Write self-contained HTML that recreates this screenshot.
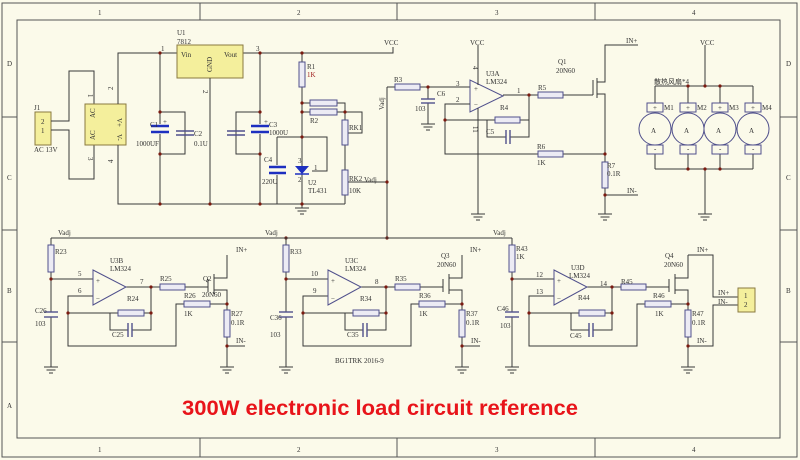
<!DOCTYPE html>
<html><head><meta charset="utf-8"><style>
html,body{margin:0;padding:0;background:#fff}
svg{display:block}
text{font-family:"Liberation Serif","Noto Sans CJK SC",serif;font-size:7px;fill:#333}
.w{stroke:#3a3a3a;stroke-width:1;fill:none}
.r{fill:#ecebf4;stroke:#50508c;stroke-width:1}
.cp{stroke:#50508c;stroke-width:1.4}
.ce{stroke:#1d2fc0;stroke-width:2.6}
.n{fill:#7a1a10}
.g{stroke:#3a3a3a;stroke-width:1}
.red{fill:#a02020}
</style></head><body>
<svg width="800" height="460" viewBox="0 0 800 460" xmlns="http://www.w3.org/2000/svg">
<defs>
<g id="gnd"><line class="g" x1="0" y1="0" x2="0" y2="4"/><line class="g" x1="-7" y1="4" x2="7" y2="4"/><line class="g" x1="-4.5" y1="7" x2="4.5" y2="7"/><line class="g" x1="-2" y1="10" x2="2" y2="10"/></g>
</defs>
<rect x="0" y="0" width="800" height="460" fill="#fbfaea"/>
<!-- frame -->
<g stroke="#555" stroke-width="1" fill="none">
<rect x="2" y="3" width="795" height="454"/>
<rect x="17" y="20" width="763" height="418"/>
<line x1="200" y1="3" x2="200" y2="20"/><line x1="397" y1="3" x2="397" y2="20"/><line x1="595" y1="3" x2="595" y2="20"/>
<line x1="200" y1="438" x2="200" y2="457"/><line x1="397" y1="438" x2="397" y2="457"/><line x1="595" y1="438" x2="595" y2="457"/>
<line x1="2" y1="117" x2="17" y2="117"/><line x1="2" y1="230" x2="17" y2="230"/><line x1="2" y1="342" x2="17" y2="342"/>
<line x1="780" y1="117" x2="797" y2="117"/><line x1="780" y1="230" x2="797" y2="230"/><line x1="780" y1="342" x2="797" y2="342"/>
</g>
<g font-size="8">
<text x="98" y="15">1</text><text x="297" y="15">2</text><text x="495" y="15">3</text><text x="692" y="15">4</text>
<text x="98" y="452">1</text><text x="297" y="452">2</text><text x="495" y="452">3</text><text x="692" y="452">4</text>
<text x="7" y="66">D</text><text x="7" y="180">C</text><text x="7" y="293">B</text><text x="7" y="408">A</text>
<text x="786" y="66">D</text><text x="786" y="180">C</text><text x="786" y="293">B</text>
</g>

<!-- ===== Power section ===== -->
<rect x="35" y="112" width="16" height="33" fill="#f4ef9c" stroke="#8a7a40"/>
<text x="41" y="124">2</text><text x="41" y="133">1</text>
<text x="34" y="110">J1</text><text x="34" y="152">AC 13V</text>
<path class="w" d="M51 121H69V71H94V105M51 130H69V179H94V145"/>
<rect x="85" y="104" width="41" height="41" fill="#f4ef9c" stroke="#8a7a40"/>
<text x="95" y="118" transform="rotate(-90 95 118)" font-size="8">AC</text>
<text x="95" y="140" transform="rotate(-90 95 140)" font-size="8">AC</text>
<text x="117" y="118" transform="rotate(90 117 118)" font-size="8">V+</text>
<text x="117" y="134" transform="rotate(90 117 134)" font-size="8">V-</text>
<text x="88" y="94" transform="rotate(90 88 94)">1</text>
<text x="113" y="90" transform="rotate(-90 113 90)">2</text>
<text x="88" y="157" transform="rotate(90 88 157)">3</text>
<text x="113" y="163" transform="rotate(-90 113 163)">4</text>
<path class="w" d="M118 104V53H177M243 53H393V47M118 145V204H345"/>
<rect x="177" y="45" width="66" height="33" fill="#f4ef9c" stroke="#8a7a40"/>
<text x="177" y="35">U1</text><text x="177" y="44">7812</text>
<text x="181" y="57">Vin</text><text x="224" y="57">Vout</text>
<text x="212" y="72" transform="rotate(-90 212 72)" font-size="8">GND</text>
<text x="161" y="51">1</text><text x="256" y="51">3</text>
<text x="203" y="90" transform="rotate(90 203 90)">2</text>
<text x="384" y="45">VCC</text>
<path class="w" d="M210 78V204M160 53V124M160 134V204M160 112H185V154H160M185 112V128M185 138V154"/>
<line class="ce" x1="151" y1="126" x2="169" y2="126"/><line class="ce" x1="151" y1="132" x2="169" y2="132"/>
<line class="cp" x1="176" y1="131" x2="194" y2="131"/><line class="cp" x1="176" y1="135" x2="194" y2="135"/>
<text x="150" y="127">C1</text><text x="163" y="124" font-size="6">+</text><text x="136" y="146">1000UF</text>
<text x="194" y="136">C2</text><text x="194" y="146">0.1U</text>
<path class="w" d="M260 53V124M260 134V204M260 112H236V154H260M236 112V128M236 138V154"/>
<line class="ce" x1="251" y1="126" x2="269" y2="126"/><line class="ce" x1="251" y1="132" x2="269" y2="132"/>
<line class="cp" x1="227" y1="131" x2="245" y2="131"/><line class="cp" x1="227" y1="135" x2="245" y2="135"/>
<text x="269" y="127">C3</text><text x="269" y="135">1000U</text><text x="264" y="124" font-size="6">+</text>
<path class="w" d="M277 137V165M277 175V204M277 137H327V171H312"/>
<line class="ce" x1="269" y1="167" x2="286" y2="167"/><line class="ce" x1="269" y1="173" x2="286" y2="173"/>
<text x="264" y="162">C4</text><text x="262" y="184">220U</text>
<path class="w" d="M302 53V62M302 87V204"/>
<rect x="299" y="62" width="6" height="25" class="r"/>
<text x="307" y="69">R1</text><text x="307" y="77" class="red">1K</text>
<polygon points="295,166 309,166 302,174" fill="#1d2fc0"/><line x1="295" y1="174" x2="309" y2="174" stroke="#1d2fc0" stroke-width="1.5"/>
<text x="298" y="163">3</text><text x="298" y="182">2</text><text x="314" y="170">1</text>
<text x="308" y="185">U2</text><text x="308" y="193">TL431</text>
<path class="w" d="M302 103H310M302 112H310M337 103H345V120M337 112H362V133H348M345 145V170M345 195V204M345 182H387"/>
<rect x="310" y="100" width="27" height="6" class="r"/><rect x="310" y="109" width="27" height="6" class="r"/>
<rect x="342" y="120" width="6" height="25" class="r"/><rect x="342" y="170" width="6" height="25" class="r"/>
<text x="310" y="123">R2</text><text x="349" y="130">RK1</text>
<text x="349" y="181">RK2</text><text x="364" y="182">Vadj</text><text x="349" y="193">10K</text>
<use href="#gnd" x="302" y="204"/>
<text x="384" y="110" transform="rotate(-90 384 110)">Vadj</text>
<path class="w" d="M387 87V238M387 87H395M420 87H470M428 87V99M428 103V120"/>
<rect x="395" y="84" width="25" height="6" class="r"/><text x="394" y="82">R3</text>
<line class="cp" x1="421" y1="99" x2="435" y2="99"/><line class="cp" x1="421" y1="103" x2="435" y2="103"/>
<text x="437" y="96">C6</text><text x="415" y="111">103</text>
<use href="#gnd" x="428" y="120"/>
<!-- U3A -->
<polygon points="470,80 470,112 503,96" fill="none" stroke="#50508c"/>
<text x="474" y="91" font-size="8">+</text><text x="474" y="107" font-size="8">−</text>
<text x="486" y="76">U3A</text><text x="486" y="84">LM324</text>
<text x="456" y="86">3</text><text x="456" y="102">2</text><text x="517" y="93">1</text>
<text x="470" y="45">VCC</text><text x="473" y="66" transform="rotate(90 473 66)">4</text>
<text x="473" y="126" transform="rotate(90 473 126)">11</text>
<path class="w" d="M478 45V85M478 108V210M470 104H445V154H538M445 120H495M520 120H529V95M503 95H538M563 95H593M487 120V137H506M510 137H529V120M563 154H605"/>
<line class="cp" x1="506" y1="130" x2="506" y2="144"/><line class="cp" x1="510" y1="130" x2="510" y2="144"/>
<rect x="495" y="117" width="25" height="6" class="r"/><text x="500" y="110">R4</text><text x="486" y="134">C5</text>
<rect x="538" y="92" width="25" height="6" class="r"/><text x="538" y="90">R5</text>
<rect x="538" y="151" width="25" height="6" class="r"/><text x="537" y="149">R6</text><text x="537" y="165">1K</text>
<use href="#gnd" x="478" y="210"/>
<path class="w" d="M593 95V80M597 78V98M597 82H605V45H638M597 94H605V162M605 188V210M605 195H638"/>
<rect x="602" y="162" width="6" height="26" class="r"/>
<text x="607" y="168">R7</text><text x="607" y="176">0.1R</text>
<text x="558" y="64">Q1</text><text x="556" y="73">20N60</text>
<text x="626" y="43">IN+</text><text x="627" y="193">IN-</text>
<use href="#gnd" x="605" y="210"/>
<!-- motors -->
<text x="700" y="45">VCC</text>
<path class="w" d="M705 45V86M655 86H753M655 86V103M688 86V103M720 86V103M753 86V103M655 153V169M688 153V169M720 153V169M753 153V169M655 169H753M705 169V210"/>
<use href="#gnd" x="705" y="210"/>
<text x="654" y="84" font-size="5">散热风扇*4</text>
<g fill="#fbfaea" stroke="#50508c">
<rect x="647" y="103" width="16" height="9"/><rect x="680" y="103" width="16" height="9"/><rect x="712" y="103" width="16" height="9"/><rect x="745" y="103" width="16" height="9"/>
<rect x="647" y="145" width="16" height="9"/><rect x="680" y="145" width="16" height="9"/><rect x="712" y="145" width="16" height="9"/><rect x="745" y="145" width="16" height="9"/>
<circle cx="655" cy="129" r="16"/><circle cx="688" cy="129" r="16"/><circle cx="720" cy="129" r="16"/><circle cx="753" cy="129" r="16"/>
</g>
<g font-size="8"><text x="651" y="133">A</text><text x="684" y="133">A</text><text x="716" y="133">A</text><text x="749" y="133">A</text></g>
<text x="653" y="110">+</text><text x="686" y="110">+</text><text x="718" y="110">+</text><text x="751" y="110">+</text>
<text x="654" y="151">-</text><text x="687" y="151">-</text><text x="719" y="151">-</text><text x="752" y="151">-</text>
<text x="664" y="110">M1</text><text x="697" y="110">M2</text><text x="729" y="110">M3</text><text x="762" y="110">M4</text>
<g fill="#7a1a10"><circle cx="688" cy="86" r="1.6"/><circle cx="705" cy="86" r="1.6"/><circle cx="720" cy="86" r="1.6"/><circle cx="688" cy="169" r="1.6"/><circle cx="705" cy="169" r="1.6"/><circle cx="720" cy="169" r="1.6"/>
<circle cx="160" cy="53" r="1.6"/><circle cx="260" cy="53" r="1.6"/><circle cx="302" cy="53" r="1.6"/><circle cx="302" cy="103" r="1.6"/><circle cx="302" cy="112" r="1.6"/><circle cx="302" cy="137" r="1.6"/><circle cx="345" cy="112" r="1.6"/><circle cx="387" cy="182" r="1.6"/><circle cx="302" cy="204" r="1.6"/><circle cx="210" cy="204" r="1.6"/><circle cx="160" cy="204" r="1.6"/><circle cx="260" cy="204" r="1.6"/><circle cx="160" cy="112" r="1.6"/><circle cx="160" cy="154" r="1.6"/><circle cx="260" cy="112" r="1.6"/><circle cx="260" cy="154" r="1.6"/>
<circle cx="428" cy="87" r="1.6"/><circle cx="445" cy="120" r="1.6"/><circle cx="529" cy="95" r="1.6"/><circle cx="605" cy="154" r="1.6"/><circle cx="605" cy="195" r="1.6"/>
<circle cx="286" cy="238" r="1.6"/><circle cx="387" cy="238" r="1.6"/></g>

<!-- Vadj bus -->
<path class="w" d="M51 238H512"/>
<text x="58" y="235">Vadj</text><text x="265" y="235">Vadj</text><text x="493" y="235">Vadj</text>

<!-- op-amp section template B -->
<g id="secB">
<path class="w" d="M51 238V245M51 272V312M51 317V363M51 279H93M93 296H68V346H176V304H184M210 304H227M68 313H118M144 313H151M110 313V330H128M132 330H151V313M126 287H160M151 287V313M185 287H208M227 255V278H214M214 290H227V310M227 337V363M227 346H245"/>
<rect x="48" y="245" width="6" height="27" class="r"/>
<line class="cp" x1="44" y1="312" x2="58" y2="312"/><line class="cp" x1="44" y1="317" x2="58" y2="317"/>
<polygon points="93,270 93,305 126,287" fill="none" stroke="#50508c"/>
<text x="96" y="283" font-size="8">+</text><text x="96" y="301" font-size="8">−</text>
<rect x="118" y="310" width="26" height="6" class="r"/>
<line class="cp" x1="128" y1="323" x2="128" y2="337"/><line class="cp" x1="132" y1="323" x2="132" y2="337"/>
<rect x="160" y="284" width="25" height="6" class="r"/>
<rect x="184" y="301" width="26" height="6" class="r"/>
<line class="w" x1="208" y1="279" x2="208" y2="292"/><line class="w" x1="214" y1="274" x2="214" y2="294"/>
<rect x="224" y="310" width="6" height="27" class="r"/>
<use href="#gnd" x="51" y="363"/><use href="#gnd" x="227" y="363"/>
<g fill="#7a1a10"><circle cx="51" cy="279" r="1.6"/><circle cx="68" cy="313" r="1.6"/><circle cx="151" cy="287" r="1.6"/><circle cx="151" cy="313" r="1.6"/><circle cx="227" cy="304" r="1.6"/><circle cx="227" cy="346" r="1.6"/></g>
</g>
<g transform="translate(235,0)">
<path class="w" d="M51 238V245M51 272V312M51 317V363M51 279H93M93 296H68V346H176V304H184M210 304H227M68 313H118M144 313H151M110 313V330H128M132 330H151V313M126 287H160M151 287V313M185 287H208M227 255V278H214M214 290H227V310M227 337V363M227 346H245"/>
<rect x="48" y="245" width="6" height="27" class="r"/>
<line class="cp" x1="44" y1="312" x2="58" y2="312"/><line class="cp" x1="44" y1="317" x2="58" y2="317"/>
<polygon points="93,270 93,305 126,287" fill="none" stroke="#50508c"/>
<text x="96" y="283" font-size="8">+</text><text x="96" y="301" font-size="8">−</text>
<rect x="118" y="310" width="26" height="6" class="r"/>
<line class="cp" x1="128" y1="323" x2="128" y2="337"/><line class="cp" x1="132" y1="323" x2="132" y2="337"/>
<rect x="160" y="284" width="25" height="6" class="r"/><rect x="184" y="301" width="26" height="6" class="r"/>
<line class="w" x1="208" y1="279" x2="208" y2="292"/><line class="w" x1="214" y1="274" x2="214" y2="294"/>
<rect x="224" y="310" width="6" height="27" class="r"/>
<use href="#gnd" x="51" y="363"/><use href="#gnd" x="227" y="363"/>
<g fill="#7a1a10"><circle cx="51" cy="279" r="1.6"/><circle cx="68" cy="313" r="1.6"/><circle cx="151" cy="287" r="1.6"/><circle cx="151" cy="313" r="1.6"/><circle cx="227" cy="304" r="1.6"/><circle cx="227" cy="346" r="1.6"/></g>
</g>
<g transform="translate(461,0)">
<path class="w" d="M51 238V245M51 272V312M51 317V363M51 279H93M93 296H68V346H176V304H184M210 304H227M68 313H118M144 313H151M110 313V330H128M132 330H151V313M126 287H160M151 287V313M185 287H208M227 255V278H214M214 290H227V310M227 337V363M227 255H252V297H277M227 346H252V305H277"/>
<rect x="48" y="245" width="6" height="27" class="r"/>
<line class="cp" x1="44" y1="312" x2="58" y2="312"/><line class="cp" x1="44" y1="317" x2="58" y2="317"/>
<polygon points="93,270 93,305 126,287" fill="none" stroke="#50508c"/>
<text x="96" y="283" font-size="8">+</text><text x="96" y="301" font-size="8">−</text>
<rect x="118" y="310" width="26" height="6" class="r"/>
<line class="cp" x1="128" y1="323" x2="128" y2="337"/><line class="cp" x1="132" y1="323" x2="132" y2="337"/>
<rect x="160" y="284" width="25" height="6" class="r"/><rect x="184" y="301" width="26" height="6" class="r"/>
<line class="w" x1="208" y1="279" x2="208" y2="292"/><line class="w" x1="214" y1="274" x2="214" y2="294"/>
<rect x="224" y="310" width="6" height="27" class="r"/>
<use href="#gnd" x="51" y="363"/><use href="#gnd" x="227" y="363"/>
<g fill="#7a1a10"><circle cx="51" cy="279" r="1.6"/><circle cx="68" cy="313" r="1.6"/><circle cx="151" cy="287" r="1.6"/><circle cx="151" cy="313" r="1.6"/><circle cx="227" cy="304" r="1.6"/><circle cx="227" cy="346" r="1.6"/></g>
<rect x="277" y="288" width="17" height="24" fill="#f4ef9c" stroke="#8a7a40"/>
<text x="283" y="298">1</text><text x="283" y="307">2</text>
<text x="257" y="295">IN+</text><text x="257" y="304">IN-</text>
</g>
<!-- section labels -->
<text x="55" y="254">R23</text><text x="110" y="263">U3B</text><text x="110" y="271">LM324</text>
<text x="78" y="276">5</text><text x="78" y="293">6</text><text x="140" y="284">7</text>
<text x="160" y="281">R25</text><text x="203" y="281">Q2</text><text x="202" y="297">20N60</text>
<text x="184" y="298">R26</text><text x="184" y="316">1K</text><text x="127" y="301">R24</text><text x="112" y="337">C25</text>
<text x="35" y="313">C26</text><text x="35" y="326">103</text><text x="231" y="316">R27</text><text x="231" y="325">0.1R</text>
<text x="236" y="252">IN+</text><text x="236" y="343">IN-</text>
<text x="290" y="254">R33</text><text x="345" y="263">U3C</text><text x="345" y="271">LM324</text>
<text x="311" y="276">10</text><text x="313" y="293">9</text><text x="375" y="284">8</text>
<text x="395" y="281">R35</text><text x="441" y="258">Q3</text><text x="437" y="267">20N60</text>
<text x="419" y="298">R36</text><text x="419" y="316">1K</text><text x="360" y="301">R34</text><text x="347" y="337">C35</text>
<text x="270" y="320">C36</text><text x="270" y="337">103</text><text x="466" y="316">R37</text><text x="466" y="325">0.1R</text>
<text x="470" y="252">IN+</text><text x="471" y="343">IN-</text>
<text x="335" y="363">BG1TRK  2016-9</text>
<text x="516" y="251">R43</text><text x="516" y="259">1K</text><text x="571" y="270">U3D</text><text x="569" y="278">LM324</text>
<text x="536" y="277">12</text><text x="536" y="294">13</text><text x="600" y="286">14</text>
<text x="621" y="284">R45</text><text x="665" y="258">Q4</text><text x="664" y="267">20N60</text>
<text x="653" y="298">R46</text><text x="655" y="316">1K</text><text x="578" y="300">R44</text><text x="570" y="338">C45</text>
<text x="497" y="311">C46</text><text x="500" y="328">103</text><text x="692" y="316">R47</text><text x="692" y="325">0.1R</text>
<text x="697" y="252">IN+</text><text x="697" y="343">IN-</text>

<text x="182" y="415" textLength="396" lengthAdjust="spacingAndGlyphs" style="font-family:'Liberation Sans',sans-serif;font-weight:bold;font-size:21px;fill:#e8141a">300W electronic load circuit reference</text>
</svg>
</body></html>
